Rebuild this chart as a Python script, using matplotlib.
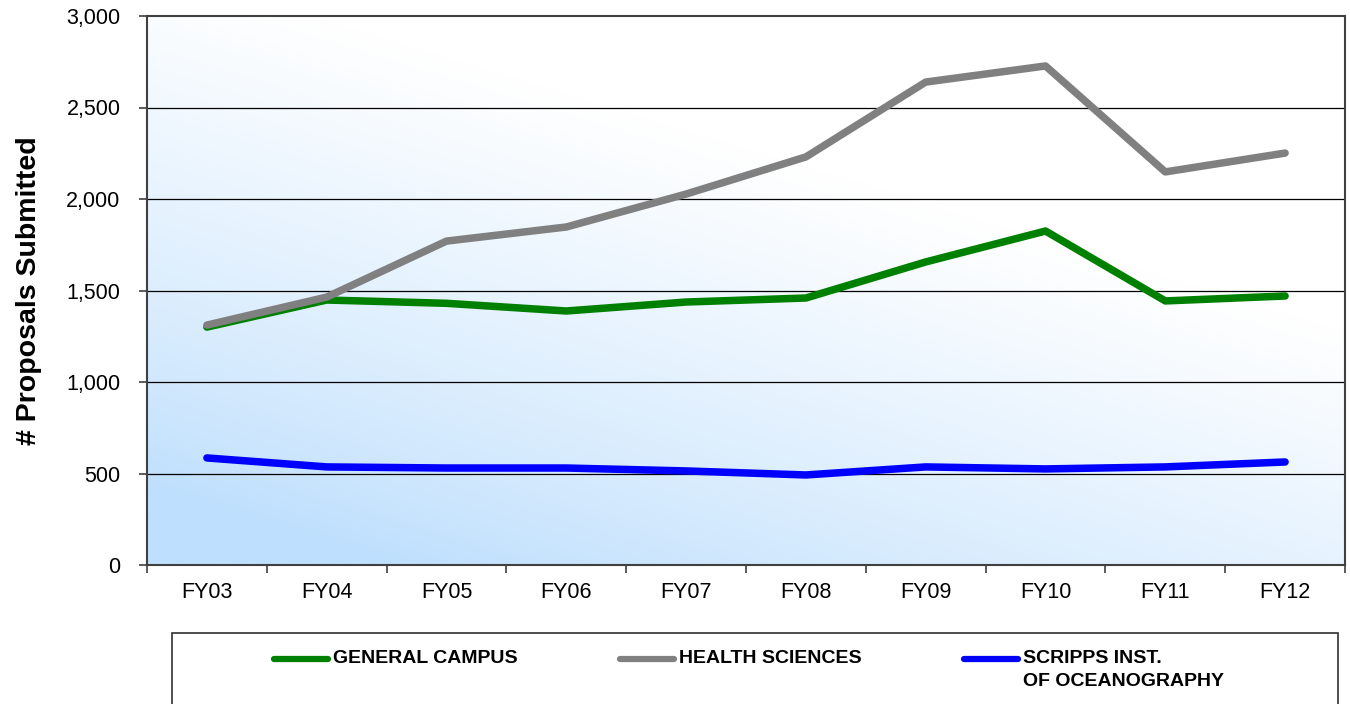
import numpy as np
import matplotlib
matplotlib.use("Agg")
import matplotlib.pyplot as plt
from matplotlib.lines import Line2D
from matplotlib.patches import Rectangle
from matplotlib.colors import LinearSegmentedColormap
from matplotlib.ticker import FuncFormatter, MultipleLocator

plt.rcParams["font.family"] = ["Liberation Sans", "DejaVu Sans"]

years = ["FY03", "FY04", "FY05", "FY06", "FY07", "FY08", "FY09", "FY10", "FY11", "FY12"]
general_campus = [1300, 1448, 1430, 1388, 1437, 1459, 1656, 1825, 1443, 1470]
health_sciences = [1311, 1464, 1770, 1847, 2027, 2230, 2639, 2727, 2148, 2251]
scripps = [585, 536, 530, 530, 514, 492, 536, 525, 536, 563]

fig = plt.figure(figsize=(13.5, 7.04), dpi=100)
ax = fig.add_axes([147 / 1350, 139 / 704, 1198 / 1350, 549 / 704])

x = np.arange(len(years))
ax.set_xlim(-0.5, len(years) - 0.5)
ax.set_ylim(0, 3000)

# background gradient: light blue bottom-left -> white top-right
gx, gy = np.meshgrid(np.linspace(0, 1, 300), np.linspace(0, 1, 200))
t = np.clip(1.05 * gy + 0.7 * gx - 0.15, 0, 1) ** 0.8
cmap = LinearSegmentedColormap.from_list("bg", ["#BEDFFD", "#FFFFFF"])
ax.imshow(t, cmap=cmap, origin="lower", aspect="auto",
          extent=(-0.5, len(years) - 0.5, 0, 3000), zorder=0, vmin=0, vmax=1)

for yv in range(500, 3000, 500):
    ax.axhline(yv, color="black", lw=0.9, zorder=1)

lw = 5.4
ax.plot(x, general_campus, color="#008000", lw=lw, solid_capstyle="round",
        solid_joinstyle="round", zorder=3)
ax.plot(x, health_sciences, color="#808080", lw=lw, solid_capstyle="round",
        solid_joinstyle="round", zorder=4)
ax.plot(x, scripps, color="#0000FF", lw=lw, solid_capstyle="round",
        solid_joinstyle="round", zorder=5)

for s in ax.spines.values():
    s.set_color("#404040")
    s.set_linewidth(1.5)

ax.yaxis.set_major_locator(MultipleLocator(500))
ax.yaxis.set_major_formatter(FuncFormatter(lambda v, p: f"{int(v):,}"))
ax.set_xticks(x)
ax.set_xticklabels(years)
ax.set_xticks(np.arange(-0.5, len(years)), minor=True)
ax.tick_params(axis="x", which="major", length=0, pad=12, labelsize=15.5)
ax.tick_params(axis="x", which="minor", length=6, width=1.2, color="#404040")
ax.tick_params(axis="y", length=6, width=1.2, color="#404040", labelsize=15.5, pad=13)

ax.set_ylabel("# Proposals Submitted", fontsize=20.5, fontweight="bold")
ax.yaxis.set_label_coords(-0.088, 0.5)

# legend box
fig.patches.append(Rectangle((172 / 1350, -0.05), 1166 / 1350, (704 - 633) / 704 + 0.05,
                             transform=fig.transFigure, facecolor="white",
                             edgecolor="#303030", lw=1.2))
entries = [("GENERAL CAMPUS", "#008000", 274),
           ("HEALTH SCIENCES", "#808080", 620),
           ("SCRIPPS INST.\nOF OCEANOGRAPHY", "#0000FF", 964)]
ly = 1 - 659 / 704
for label, col, px in entries:
    fig.lines.append(Line2D([px / 1350, (px + 54) / 1350], [ly, ly], transform=fig.transFigure,
                            color=col, lw=4.5, solid_capstyle="round"))
    fig.text((px + 59) / 1350, 1 - 650 / 704, label, fontsize=14, fontweight="bold",
             va="top", ha="left", linespacing=1.5)

fig.savefig("out.png", dpi=100, facecolor="white")
